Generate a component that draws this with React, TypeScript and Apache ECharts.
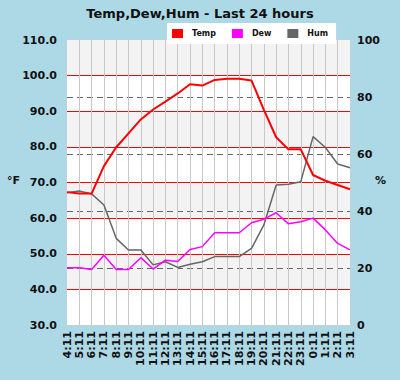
import React, { useEffect, useRef } from "react";
import * as echarts from "echarts";

const hours = ["4:11","5:11","6:11","7:11","8:11","9:11","10:11","11:11","12:11","13:11","14:11","15:11","16:11","17:11","18:11","19:11","20:11","21:11","22:11","23:11","0:11","1:11","2:11","3:11"];
const temp = [67.3,66.9,66.9,74.6,79.9,83.8,87.7,90.5,92.7,95.0,97.6,97.2,98.8,99.1,99.1,98.6,90.4,82.7,79.3,79.3,72.1,70.5,69.3,68.1];
const dew = [46.1,46.1,45.6,49.6,45.6,45.6,48.9,45.7,48.2,47.8,51.2,52.0,55.9,55.9,55.9,58.7,59.7,61.5,58.4,59.0,60.0,56.7,52.9,51.1];
const hum = [46.4,47.0,46.0,42.1,30.4,26.3,26.3,21.1,22.2,20.2,21.3,22.2,24.0,24.0,24.0,26.9,35.1,49.1,49.4,50.3,66.1,62.3,56.5,55.2];
const leftTicks = { min: 30, max: 110, step: 10 };
const rightTicks = { min: 0, max: 100, step: 20 };

const FONT = "DejaVu Sans";

export default function App() {
  const ref = useRef<HTMLDivElement>(null);
  useEffect(() => {
    if (!ref.current) return;
    const chart = echarts.init(ref.current, undefined, { renderer: "svg" });
    const pts = (arr: number[]) => arr.map((v, i) => [i, v]);
    const lbl = { color: "#111", fontWeight: "bold" as const, fontSize: 11, fontFamily: FONT };
    chart.setOption({
      animation: false,
      backgroundColor: "#add8e6",
      title: {
        text: "Temp,Dew,Hum - Last 24 hours",
        left: "center",
        top: 2,
        textStyle: { fontFamily: FONT, fontWeight: "bold", fontSize: 13, color: "#111" },
      },
      legend: {
        data: ["Temp", "Dew", "Hum"],
        left: 167,
        top: 23,
        backgroundColor: "#ffffff",
        padding: [6, 8, 6, 5],
        itemWidth: 11,
        itemHeight: 9,
        itemGap: 16,
        icon: "rect",
        textStyle: { fontFamily: FONT, fontWeight: "bold", fontSize: 8, color: "#111", padding: [0, 0, 0, 4] },
        z: 10,
      },
      grid: {
        left: 67,
        top: 40,
        width: 283,
        height: 285,
        show: true,
        borderColor: "#cccccc",
        borderWidth: 1,
        backgroundColor: "transparent",
      },
      graphic: [
        { type: "text", left: 7, top: 175, style: { text: "°F", font: `bold 11px "${FONT}"`, fill: "#111" } },
        { type: "text", left: 375, top: 175, style: { text: "%", font: `bold 11px "${FONT}"`, fill: "#111" } },
      ],
      xAxis: {
        type: "value",
        min: 0,
        max: hours.length - 1,
        interval: 1,
        axisLine: { show: false },
        axisTick: { show: false },
        axisLabel: { ...lbl, rotate: 90, margin: 6, formatter: (v: number) => hours[v] ?? "" },
        splitLine: { show: true, showMinLine: false, showMaxLine: false, lineStyle: { color: "#c8c8c8", width: 1 } },
      },
      yAxis: [
        {
          type: "value",
          min: leftTicks.min,
          max: leftTicks.max,
          interval: leftTicks.step,
          axisLine: { show: false },
          axisTick: { show: false },
          axisLabel: { ...lbl, margin: 10, formatter: (v: number) => v.toFixed(1) },
          splitLine: { show: true, showMinLine: false, showMaxLine: false, lineStyle: { color: "#ff0000", width: 1 } },
          splitArea: { show: true, areaStyle: { color: ["#ffffff", "#f3f3f3"] } },
        },
        {
          type: "value",
          min: rightTicks.min,
          max: rightTicks.max,
          interval: rightTicks.step,
          position: "right",
          axisLine: { show: false },
          axisTick: { show: false },
          axisLabel: { ...lbl, margin: 7 },
          splitLine: { show: true, showMinLine: false, showMaxLine: false, lineStyle: { color: "#666666", width: 1, type: [6, 4] } },
        },
      ],
      series: [
        { name: "Hum", type: "line", yAxisIndex: 1, data: pts(hum), showSymbol: false, color: "#666666", lineStyle: { width: 1.5, color: "#666666" }, z: 2 },
        { name: "Dew", type: "line", yAxisIndex: 0, data: pts(dew), showSymbol: false, color: "#ff00ff", lineStyle: { width: 1.5, color: "#ff00ff" }, z: 3 },
        { name: "Temp", type: "line", yAxisIndex: 0, data: pts(temp), showSymbol: false, color: "#ff0000", lineStyle: { width: 2, color: "#ff0000" }, z: 4 },
      ],
    });
    return () => chart.dispose();
  }, []);
  return <div ref={ref} style={{ width: 400, height: 380, position: "absolute", left: 0, top: 0 }} />;
}
